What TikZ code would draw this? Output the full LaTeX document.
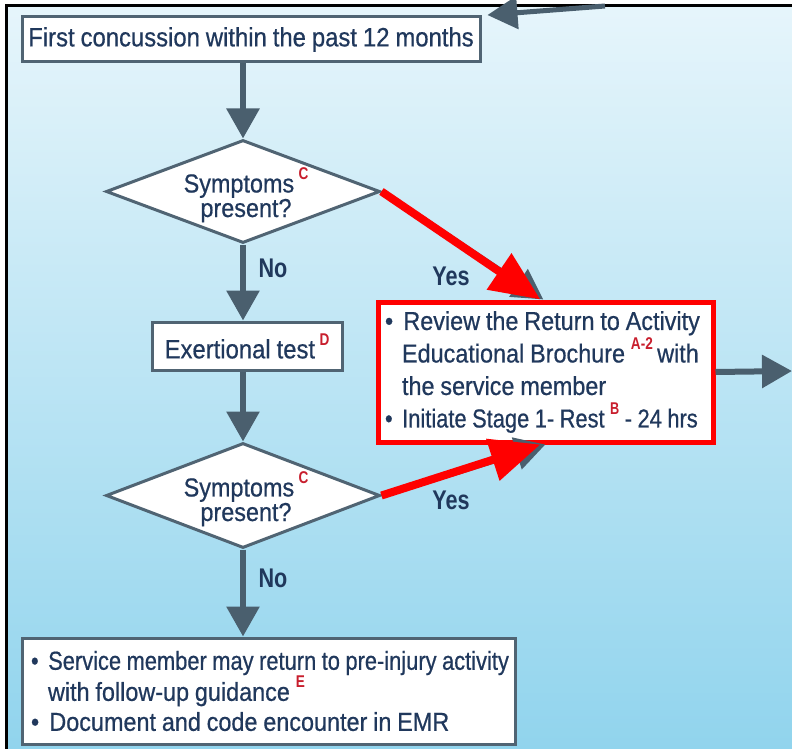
\documentclass[tikz,border=0pt]{standalone}
\usepackage{fontspec}
\usepackage{graphicx}
\setmainfont{Liberation Sans}[FakeStretch=0.9, FakeBold=0.6, WordSpace=0.9]
\newfontfamily\lblfont{Liberation Sans}[FakeStretch=0.8, WordSpace=0.8]
\usetikzlibrary{shapes.geometric,arrows.meta,calc}
\definecolor{bgtop}{RGB}{230,245,251}
\definecolor{bgbot}{RGB}{145,212,237}
\definecolor{navy}{RGB}{32,56,92}
\definecolor{edgegray}{RGB}{80,100,115}
\definecolor{arrowgray}{RGB}{74,95,110}
\definecolor{supred}{RGB}{200,30,45}
\newcommand\rsup[1]{\raisebox{0.5em}{\lblfont\bfseries\fontsize{17}{17}\selectfont\color{supred}#1}}
\newcommand\natsp{\spaceskip=0pt\xspaceskip=0pt\relax}
\begin{document}
\begin{tikzpicture}[x=1pt,y=-1pt,
  box/.style={draw=edgegray, line width=3pt, fill=white, text=navy, inner sep=0pt,
    font=\fontsize{26.5}{28}\selectfont},
  listbox/.style={draw=edgegray, line width=3pt, fill=white, text=navy, align=left,
    inner ysep=0pt},
  redbox/.style={draw=red, line width=5pt, fill=white, text=navy, align=left,
    inner ysep=0pt},
  dia/.style={diamond, draw=edgegray, line width=3pt, fill=white, inner sep=0pt},
  dtext/.style={text=navy, align=center, inner sep=0pt,
    font=\fontsize{26}{20}\selectfont},
  lbl/.style={text=navy, inner sep=0pt, font=\lblfont\bfseries\fontsize{27}{28}\selectfont},
  garrow/.style={draw=arrowgray, line width=6pt, -{Triangle[length=30pt,width=32pt]}},
  rarrow/.style={draw=red, line width=8pt, -{Triangle[length=50pt,width=42pt]}}
]
\useasboundingbox (0,0) rectangle (792,749);
\fill[white] (0,0) rectangle (792,749);
\shade[top color=bgtop, bottom color=bgbot] (6,5) rectangle (792,749);
\draw[line width=3pt] (6.5,749) -- (6.5,5.5) -- (792,5.5);

% nodes
\node[box, minimum width=458, minimum height=45] (first) at (251,39.5)
  {First concussion within the past 12 months};
\node[dia, minimum width=274, minimum height=103] (d1) at (243,191.5) {};
\node[dtext] (d1t) at (246,195) {\natsp Symptoms\,\rsup{C}\\present?};
\node[box, minimum width=190, minimum height=48] (ex) at (247,346)
  {Exertional test\,\rsup{D}};
\node[dia, minimum width=274, minimum height=105] (d2) at (243,495.5) {};
\node[dtext] (d2t) at (246,499) {\natsp Symptoms\,\rsup{C}\\present?};
\node[redbox, text width=321pt, inner xsep=7pt, minimum height=140,
  font=\fontsize{26}{32.5}\selectfont] (rev) at (545.5,372)
  {\natsp\mbox{\textbullet\ \,Review the Return to Activity}\\
   \mbox{\hspace*{17pt}Educational Brochure \rsup{A-2}\,with}\\
   \mbox{\hspace*{17pt}the service member}\\
   \scalebox{0.935}[1]{\textbullet\ \,Initiate Stage 1- Rest \rsup{B} - 24 hrs}};
\node[listbox, text width=475pt, inner xsep=9pt, minimum height=106,
  font=\fontsize{26}{30}\selectfont] (fin) at (268.5,691)
  {\natsp\scalebox{0.935}[1]{\textbullet\ \,Service member may return to pre-injury activity}\\
   \mbox{\hspace*{17pt}with follow-up guidance \rsup{E}}\\
   \mbox{\textbullet\ \,Document and code encounter in EMR}};

\node[lbl] (no1) at (273,268) {No};
\node[lbl] (no2) at (273,578) {No};
\node[lbl] (yes1) at (451,276) {Yes};
\node[lbl] (yes2) at (451,500) {Yes};

\coordinate (topstart) at (605,6);
\coordinate (rightend) at (792,371);
\coordinate (revtop) at ($(rev.north west)!0.485!(rev.north east)$);
\coordinate (revbot) at ($(rev.south west)!0.485!(rev.south east)$);

% gray connectors
\draw[garrow, line width=5pt, shorten >=6pt] (topstart) -- (first.north east);
\draw[garrow] (first.south -| d1.north) -- (d1.north);
\draw[garrow] (d1.south) -- (d1.south |- ex.north);
\draw[garrow] (ex.south -| d2.north) -- (d2.north);
\draw[garrow] (d2.south) -- (d2.south |- fin.north);
\draw[garrow] (rev.east) -- (rightend);
\draw[garrow] (d1.east) -- ($(revtop)+(3,0)$);
\draw[garrow] (d2.east) -- ($(revbot)+(5,0)$);
% red highlight arrows
\draw[rarrow] (d1.east) -- (revtop);
\draw[rarrow] (d2.east) -- (revbot);
\end{tikzpicture}
\end{document}
